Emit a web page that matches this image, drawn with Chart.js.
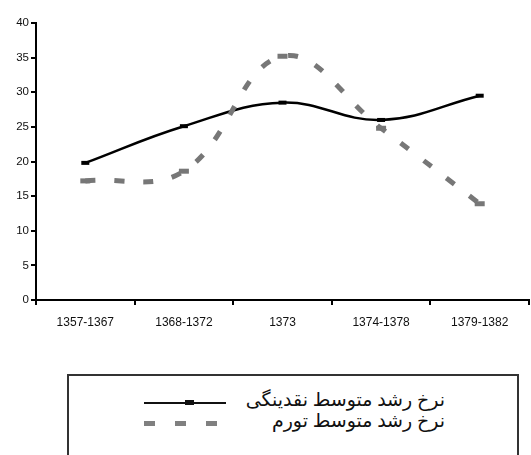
<!DOCTYPE html>
<html>
<head>
<meta charset="utf-8">
<script src="https://cdn.jsdelivr.net/npm/chart.js@4"></script>
<style>
  body { margin: 0; background: #fff; width: 531px; height: 455px; overflow: hidden; position: relative; }
  #wrap { position: absolute; left: 0; top: 0; width: 539px; height: 340px; }
  #legend { position: absolute; left: 67px; top: 374px; width: 452px; height: 100px;
            border: 2px solid #333; box-sizing: border-box; }
  .row { position: absolute; left: 0; width: 100%; height: 20px; }
  .sample { position: absolute; left: 75px; top: 9px; width: 82px; height: 0; }
  .txt { position: absolute; left: 160px; width: 216px; top: -4px; direction: rtl; text-align: right;
         font-family: "Times New Roman", "Liberation Serif", "DejaVu Sans", serif; font-size: 19px; line-height: 22px; color: #111; }
</style>
</head>
<body>
<div id="wrap"><canvas id="chart"></canvas></div>
<div id="legend"></div>
<script>
// === DATA ===
const categories = ["1357-1367", "1368-1372", "1373", "1374-1378", "1379-1382"];
const liquidityGrowth = [19.8, 25.1, 28.5, 26.0, 29.5];
const inflationRate = [17.2, 18.6, 35.2, 24.8, 13.9];
const seriesNames = ["نرخ رشد متوسط نقدینگی", "نرخ رشد متوسط تورم"];
const yTicks = [0, 5, 10, 15, 20, 25, 30, 35, 40];

// === LEGEND (html) ===
const legend = document.getElementById("legend");
legend.innerHTML = `
  <div class="row" style="top:17px">
    <div class="sample" style="border-top:2.5px solid #111"></div>
    <div style="position:absolute;left:116px;top:7px;width:9px;height:5px;background:#111"></div>
    <div class="txt">${seriesNames[0]}</div>
  </div>
  <div class="row" style="top:38px">
    <div class="sample" style="height:5px;top:7px;background:repeating-linear-gradient(90deg,#808080 0 11px,transparent 11px 31px)"></div>
    <div class="txt">${seriesNames[1]}</div>
  </div>`;

// === CHART ===
const ctx = document.getElementById("chart").getContext("2d");
new Chart(ctx, {
  type: "line",
  data: {
    labels: categories,
    datasets: [
      {
        label: seriesNames[1],
        data: inflationRate,
        borderColor: "#777",
        borderWidth: 5,
        borderDash: [10, 19],
        tension: 0.4,
        pointStyle: "line",
        pointRadius: 5,
        pointBorderWidth: 5,
        pointBorderColor: "#777",
        pointBackgroundColor: "#777"
      },
      {
        label: seriesNames[0],
        data: liquidityGrowth,
        borderColor: "#000",
        borderWidth: 2.5,
        tension: 0.4,
        pointStyle: "line",
        pointRadius: 4,
        pointBorderWidth: 4,
        pointBorderColor: "#000",
        pointBackgroundColor: "#000"
      }
    ]
  },
  options: {
    responsive: true,
    maintainAspectRatio: false,
    animation: false,
    layout: { padding: { top: 23, right: 0, left: 0, bottom: 0 } },
    plugins: { legend: { display: false }, tooltip: { enabled: false } },
    scales: {
      x: {
        offset: true,
        grid: { display: true, offset: true, drawOnChartArea: false, drawTicks: true, tickLength: 5, color: "#000", lineWidth: 2 },
        border: { display: true, color: "#000", width: 2 },
        ticks: { color: "#111", font: { family: "Liberation Sans, Arial", size: 12 }, padding: 10, maxRotation: 0 },
        afterFit: (s) => { s.height = 40; }
      },
      y: {
        min: 0,
        max: 40,
        afterBuildTicks: (s) => { s.ticks = yTicks.map(v => ({ value: v })); },
        grid: { display: true, drawOnChartArea: false, drawTicks: true, tickLength: 5, color: "#000", lineWidth: 2 },
        border: { display: true, color: "#000", width: 2 },
        ticks: { color: "#111", font: { family: "Liberation Sans, Arial", size: 11.5 }, padding: 2 },
        afterFit: (s) => { s.width = 36; }
      }
    }
  }
});
</script>
</body>
</html>
